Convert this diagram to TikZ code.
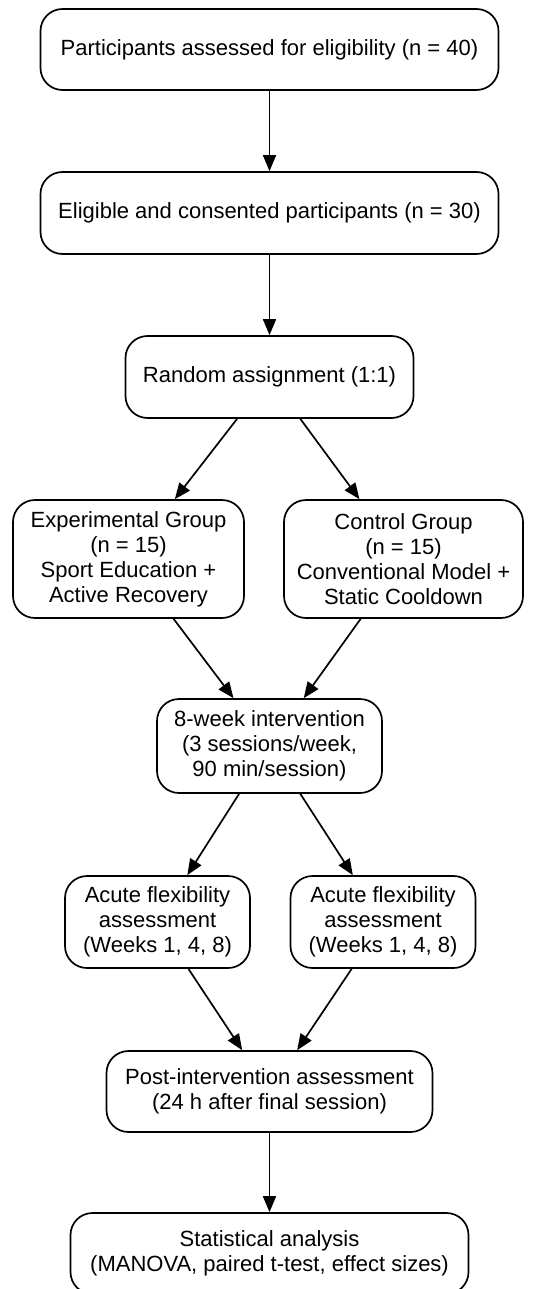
\documentclass[tikz,border=0pt]{standalone}
\usepackage{fontspec}
\setmainfont{Liberation Sans}
\usetikzlibrary{arrows.meta}

\begin{document}
\begin{tikzpicture}[x=0.5pt,y=-0.5pt,
  box/.style={draw,line width=0.85pt,rounded corners=11pt,inner sep=0pt,align=center,
    font=\fontsize{11}{12.5}\selectfont},
  arr/.style={line width=0.85pt,-{Triangle[length=8pt,width=6.5pt]}}]
  \useasboundingbox (0,0) rectangle (535,1289);
  \node[box,minimum width=229pt,minimum height=40.5pt] (elig) at (269.5,49.5) {Participants assessed for eligibility (n = 40)};
  \node[box,minimum width=229pt,minimum height=41pt] (consent) at (269.5,213) {Eligible and consented participants (n = 30)};
  \node[box,minimum width=144pt,minimum height=41pt] (random) at (269.5,377) {Random assignment (1:1)};
  \node[box,minimum width=115.5pt,minimum height=59pt] (expgrp) at (128.5,559) {Experimental Group\\(n = 15)\\Sport Education +\\Active Recovery};
  \node[box,minimum width=119.5pt,minimum height=59pt] (ctrlgrp) at (403.5,559) {Control Group\\(n = 15)\\Conventional Model +\\Static Cooldown};
  \node[box,minimum width=112.5pt,minimum height=47pt] (interv) at (269.5,746) {8-week intervention\\(3 sessions/week,\\90 min/session)};
  \node[box,minimum width=92.5pt,minimum height=46pt] (acuteL) at (157.5,922) {Acute flexibility\\assessment\\(Weeks 1, 4, 8)};
  \node[box,minimum width=92.5pt,minimum height=46pt] (acuteR) at (383,922) {Acute flexibility\\assessment\\(Weeks 1, 4, 8)};
  \node[box,minimum width=163pt,minimum height=40.5pt] (post) at (269.5,1091.5) {Post-intervention assessment\\(24 h after final session)};
  \node[box,minimum width=199pt,minimum height=40.5pt] (stats) at (269.5,1253.5) {Statistical analysis\\(MANOVA, paired t-test, effect sizes)};
  \draw[arr] (elig) -- (consent);
  \draw[arr] (consent) -- (random);
  \draw[arr] (random) -- (expgrp);
  \draw[arr] (random) -- (ctrlgrp);
  \draw[arr] (expgrp) -- (interv);
  \draw[arr] (ctrlgrp) -- (interv);
  \draw[arr] (interv) -- (acuteL);
  \draw[arr] (interv) -- (acuteR);
  \draw[arr] (acuteL) -- (post);
  \draw[arr] (acuteR) -- (post);
  \draw[arr] (post) -- (stats);
\end{tikzpicture}
\end{document}
